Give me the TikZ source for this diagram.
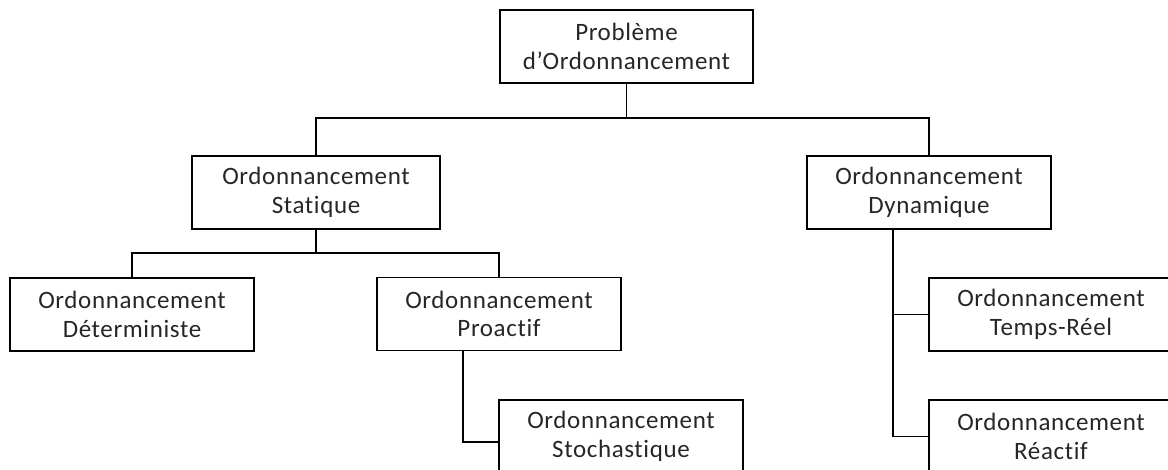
\documentclass[tikz,border=0pt]{standalone}
\usepackage{fontspec}
\setmainfont{Carlito}[Ligatures=NoCommon,LetterSpace=2.5]
\begin{document}
\begin{tikzpicture}[x=1pt,y=-1pt,
  box/.style={draw=black,line width=1.2pt,rectangle,minimum width=244pt,minimum height=73pt,inner sep=0pt,
    align=center,text=black!85,font=\fontsize{25}{28.5}\selectfont},
  conn/.style={draw=black,line width=1.2pt}]
\useasboundingbox (0,0) rectangle (1168,470);
\clip (0,0) rectangle (1168,470);
\node[box,minimum width=253pt] (top) at (626.5,46.5) {Problème\\d’Ordonnancement};
\node[box,minimum width=248pt] (stat) at (316,192.5) {Ordonnancement\\Statique};
\node[box] (dyn) at (929,192.5) {Ordonnancement\\Dynamique};
\node[box] (det) at (132,314.5) {Ordonnancement\\Déterministe};
\node[box] (pro) at (499,314) {Ordonnancement\\Proactif};
\node[box] (sto) at (621,436.5) {Ordonnancement\\Stochastique};
\node[box] (tr) at (1051,314.5) {Ordonnancement\\Temps-Réel};
\node[box] (rea) at (1051,436.5) {Ordonnancement\\Réactif};
\coordinate (j1) at (626.5,118);
\coordinate (j2) at (316,253);
\coordinate (j3) at (463,442);
\coordinate (j4) at (893,436.5);
\draw[conn] (top.south) -- (j1);
\draw[conn] (stat.north) |- (j1) -| (dyn.north);
\draw[conn] (stat.south) -- (j2);
\draw[conn] (det.north) |- (j2) -| (pro.north);
\draw[conn] (pro.south -| j3) -- (j3) -- (j3 -| sto.west);
\draw[conn] (dyn.south -| j4) -- (j4) -- (rea.west);
\draw[conn] (tr.west -| j4) -- (tr.west);
\end{tikzpicture}
\end{document}
